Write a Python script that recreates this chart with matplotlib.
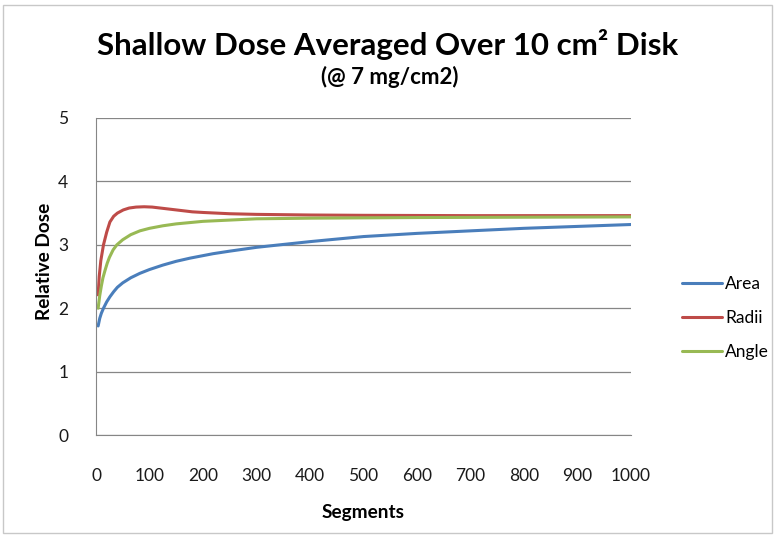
import matplotlib
matplotlib.use("Agg")
import matplotlib.pyplot as plt
from matplotlib.patches import Rectangle

plt.rcParams['font.family'] = ['Lato', 'DejaVu Sans']

area_x = [4, 7, 10, 14, 20, 26, 33, 40, 50, 65, 82, 100, 125, 150, 176, 219, 250, 300, 344, 400, 437, 500, 600, 700, 800, 900, 1000]
area_y = [1.72, 1.84, 1.92, 2.00, 2.10, 2.18, 2.26, 2.33, 2.40, 2.48, 2.55, 2.61, 2.68, 2.74, 2.79, 2.86, 2.90, 2.96, 3.00, 3.05, 3.08, 3.13, 3.18, 3.22, 3.26, 3.29, 3.32]

radii_x = [4, 6, 9, 14, 20, 26, 33, 40, 51, 62, 75, 90, 105, 120, 140, 160, 180, 200, 250, 300, 400, 500, 700, 1000]
radii_y = [2.21, 2.50, 2.75, 3.00, 3.20, 3.36, 3.45, 3.50, 3.55, 3.58, 3.595, 3.60, 3.595, 3.58, 3.56, 3.54, 3.52, 3.51, 3.49, 3.48, 3.47, 3.465, 3.46, 3.46]

angle_x = [4, 7, 10, 13, 17, 21, 25, 32, 39, 50, 65, 82, 100, 125, 150, 200, 250, 300, 400, 600, 1000]
angle_y = [2.00, 2.20, 2.35, 2.48, 2.60, 2.71, 2.80, 2.92, 3.00, 3.08, 3.16, 3.22, 3.26, 3.30, 3.33, 3.37, 3.39, 3.41, 3.42, 3.43, 3.44]

series = [("Area", area_x, area_y, "#4A7EBB"),
          ("Radii", radii_x, radii_y, "#BE4B48"),
          ("Angle", angle_x, angle_y, "#98B954")]

x_ticks = [0, 100, 200, 300, 400, 500, 600, 700, 800, 900, 1000]
y_ticks = [0, 1, 2, 3, 4, 5]

W, H = 777, 536
fig = plt.figure(figsize=(W / 100, H / 100), dpi=100)
ax = fig.add_axes([96 / W, 1 - 435 / H, (631 - 96) / W, (435 - 118) / H])

for name, xs, ys, c in series:
    ax.plot(xs, ys, color=c, lw=2.2, label=name, solid_joinstyle='round',
            solid_capstyle='round')

ax.set_xlim(0, 1000)
ax.set_ylim(0, 5)
ax.set_xticks(x_ticks)
ax.set_yticks(y_ticks)
ax.yaxis.grid(True, color='#868686', lw=0.9)
ax.set_axisbelow(True)
for s in ['top', 'right']:
    ax.spines[s].set_visible(False)
for s in ['left', 'bottom']:
    ax.spines[s].set_color('#868686')
ax.tick_params(axis='both', length=0, labelsize=12.5, colors='#1a1a1a')
ax.tick_params(axis='x', pad=24)
ax.tick_params(axis='y', pad=20)

ax.set_xlabel("Segments", fontsize=13.7, fontweight='bold', labelpad=14)
fig.text(45 / W, 1 - 261 / H, "Relative Dose", rotation=90, ha='center', va='center',
         fontsize=13.7, fontweight='bold')

fig.text(388 / W, 1 - 44 / H, "Shallow Dose Averaged Over 10 cm\u00b2 Disk",
         ha='center', va='center', fontsize=22.5, fontweight='bold')
fig.text(390 / W, 1 - 77 / H, "(@ 7 mg/cm2)", ha='center', va='center',
         fontsize=16, fontweight='bold')

leg = fig.legend(loc='center left', bbox_to_anchor=(682 / W, 1 - 318 / H), frameon=False,
                 fontsize=12.5, handlelength=2.3, handletextpad=0.2, labelspacing=1.05,
                 borderaxespad=0, borderpad=0)

fig.patches.append(Rectangle((3 / W, 3 / H), (W - 8) / W, (H - 8) / H, transform=fig.transFigure,
                             fill=False, edgecolor='#c8c8c8', lw=1))

fig.savefig("out.png", dpi=100)
